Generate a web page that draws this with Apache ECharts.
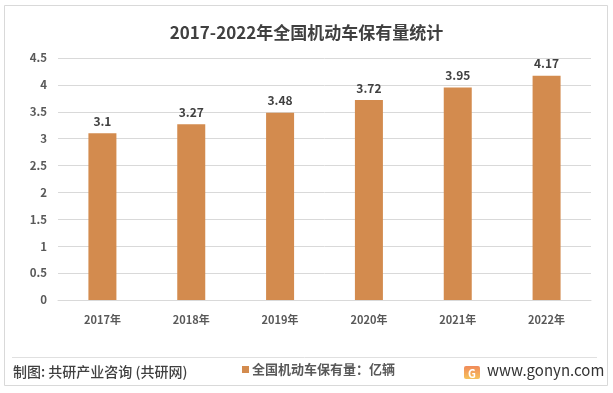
<!DOCTYPE html>
<html>
<head>
<meta charset="utf-8">
<script src="https://cdn.jsdelivr.net/npm/echarts@6/dist/echarts.min.js"></script>
<style>
html,body{margin:0;padding:0;background:#fff;}
#c{width:613px;height:393px;}
</style>
</head>
<body>
<div id="c"></div>
<script>
const categories = ['2017年','2018年','2019年','2020年','2021年','2022年'];
const values = [3.1, 3.27, 3.48, 3.72, 3.95, 4.17];
const seriesName = '全国机动车保有量：亿辆';
const titleText = '2017-2022年全国机动车保有量统计';
const sourceText = '制图: 共研产业咨询 (共研网)';
const siteText = 'www.gonyn.com';

const FONT = '"Noto Sans CJK SC", "Noto Sans", sans-serif';
const chart = echarts.init(document.getElementById('c'), null, {renderer: 'canvas'});
chart.setOption({
  backgroundColor: '#fff',
  animation: false,
  title: {
    text: titleText,
    left: 'center',
    top: 19,
    textStyle: {fontFamily: FONT, fontSize: 17, fontWeight: 'bold', color: '#404040'}
  },
  grid: {left: 58, right: 22, top: 58, bottom: 93, containLabel: false},
  legend: {
    data: [seriesName],
    left: 237,
    top: 358,
    itemWidth: 7,
    itemHeight: 7,
    itemGap: 4,
    icon: 'rect',
    textStyle: {fontFamily: FONT, fontSize: 13, fontWeight: 'bold', color: '#595959', padding: [0,0,0,-2]}
  },
  xAxis: {
    type: 'category',
    data: categories,
    axisLine: {show: true, lineStyle: {color: '#d9d9d9', width: 1}},
    axisTick: {show: false},
    axisLabel: {margin: 14, fontFamily: FONT, fontSize: 11, fontWeight: 'bold', color: '#595959'}
  },
  yAxis: {
    type: 'value',
    min: 0,
    max: 4.5,
    interval: 0.5,
    axisLine: {show: false},
    axisTick: {show: false},
    splitLine: {lineStyle: {color: '#d9d9d9', width: 1}},
    axisLabel: {margin: 11, fontFamily: FONT, fontSize: 11.5, fontWeight: 'bold', color: '#595959'}
  },
  series: [{
    name: seriesName,
    type: 'bar',
    data: values,
    barWidth: 28,
    itemStyle: {color: '#d38b4e'},
    label: {
      show: true,
      position: 'top',
      distance: 6,
      fontFamily: FONT,
      fontSize: 12,
      fontWeight: 'bold',
      color: '#404040'
    }
  }],
  graphic: [
    {type: 'rect', shape: {x: 4.5, y: 5.5, width: 603, height: 380}, style: {fill: 'none', stroke: '#d9d9d9', lineWidth: 1}, silent: true, z: -1},
    {type: 'line', shape: {x1: 12, y1: 357.5, x2: 597, y2: 357.5}, style: {stroke: '#e0e0e0', lineWidth: 1}},
    {type: 'text', left: 13, top: 365, style: {text: sourceText, font: '500 14px ' + FONT, fill: '#404040'}},
    {type: 'group', left: 464, top: 366, children: [
      {type: 'rect', shape: {x: 0, y: 0, width: 16, height: 13, r: 2}, style: {fill: new echarts.graphic.LinearGradient(0,0,0,1,[{offset:0,color:'#f08a5a'},{offset:1,color:'#f6c25a'}])}},
      {type: 'text', style: {x: 4, y: 2, text: 'G', font: 'bold 11px ' + FONT, fill: '#fff'}}
    ]},
    {type: 'text', left: 487, top: 363, style: {text: siteText, font: '15px ' + FONT, fill: '#333'}}
  ]
});
</script>
</body>
</html>
